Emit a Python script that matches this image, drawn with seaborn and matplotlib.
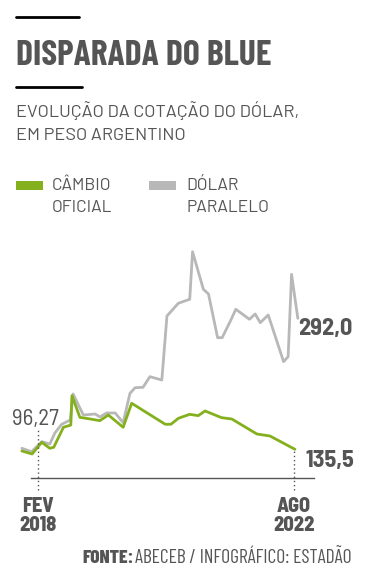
import matplotlib
matplotlib.use("Agg")
import pandas as pd
import seaborn as sns
from matplotlib import pyplot as plt
from matplotlib.lines import Line2D
from matplotlib.patches import Rectangle

# values (x in decimal years)
paralelo_x = [2017.80, 2017.97, 2018.06, 2018.15, 2018.29, 2018.38, 2018.50, 2018.65,
              2018.70, 2018.88, 2019.09, 2019.17, 2019.29, 2019.44, 2019.58, 2019.70,
              2019.79, 2019.93, 2020.05, 2020.26, 2020.35, 2020.55, 2020.75, 2020.80,
              2020.99, 2021.08, 2021.24, 2021.32, 2021.46, 2021.56, 2021.80, 2021.90,
              2021.99, 2022.13, 2022.40, 2022.48, 2022.54, 2022.65]
paralelo_y = [136.7, 132.6, 138.6, 144.6, 141.8, 155.0, 165.4, 170.5,
              201.6, 176.5, 177.7, 174.1, 178.9, 178.9, 167.3, 202.4,
              209.1, 209.6, 222.3, 218.3, 294.8, 310.0, 314.8, 371.6,
              326.7, 321.1, 268.9, 268.9, 288.0, 302.8, 290.9, 297.2,
              286.8, 296.0, 240.2, 246.2, 344.6, 292.0]

oficial_x = [2017.80, 2017.98, 2018.15, 2018.29, 2018.36, 2018.53, 2018.66, 2018.68,
             2018.82, 2019.03, 2019.17, 2019.32, 2019.58, 2019.73, 2020.32, 2020.42,
             2020.55, 2020.75, 2020.90, 2021.02, 2021.31, 2021.49, 2021.93, 2022.16,
             2022.60]
oficial_y = [133.5, 129.9, 143.9, 136.7, 137.9, 161.8, 164.5, 199.5,
             173.7, 171.4, 169.7, 176.5, 161.8, 190.5, 165.4, 165.4,
             172.5, 177.3, 175.7, 181.3, 173.3, 171.7, 153.8, 151.4,
             135.5]

tick_pos = [2018.083, 2022.583]
tick_labels = ["FEV\n2018", "AGO\n2022"]

GREEN = "#84b01e"
GREY = "#b8b8b8"
TXT = "#555555"
W, H = 370, 566
COND = ["Barlow Condensed", "DejaVu Sans"]
SEMI = ["Barlow Semi Condensed", "DejaVu Sans"]
REG = ["Barlow", "DejaVu Sans"]

sns.set_style("white")
plt.rcParams["font.family"] = REG


def fx(px):
    return px / W


def fy(py):
    return 1 - py / H


fig = plt.figure(figsize=(W / 100, H / 100), dpi=100)
ax = fig.add_axes([fx(20), fy(478), fx(320) - fx(20), fy(240) - fy(478)])

df_par = pd.DataFrame({"ano": paralelo_x, "valor": paralelo_y})
df_ofi = pd.DataFrame({"ano": oficial_x, "valor": oficial_y})
sns.lineplot(data=df_par, x="ano", y="valor", color=GREY, lw=2, ax=ax)
sns.lineplot(data=df_ofi, x="ano", y="valor", color=GREEN, lw=2, ax=ax)

ax.set_xlim(2017.767, 2023.040)
ax.set_ylim(101.2, 385.6)
ax.set_xlabel("")
ax.set_ylabel("")
ax.set_yticks([])
for s in ["left", "right", "top"]:
    ax.spines[s].set_visible(False)
ax.spines["bottom"].set_color(TXT)
ax.spines["bottom"].set_linewidth(1)
ax.spines["bottom"].set_bounds(2017.96, 2022.934)
ax.set_xticks(tick_pos)
ax.set_xticklabels(tick_labels, fontsize=14.5, fontweight="heavy", color=TXT,
                   linespacing=1.0, family=SEMI)
ax.tick_params(axis="x", length=0, pad=14)

# dotted markers
ax.plot([tick_pos[0]] * 2, [86.9, 161.0], ls=(0, (1, 2)), color=TXT, lw=1, clip_on=False)
ax.plot([tick_pos[1]] * 2, [86.9, 133.5], ls=(0, (1, 2)), color=TXT, lw=1, clip_on=False)

ax.text(2018.03, 164.5, "96,27", fontsize=16.5, color=TXT, ha="center",
        va="baseline", family=SEMI)
ax.text(2022.653, 272.1, "292,0", fontsize=17.5, fontweight="bold", color=TXT,
        ha="left", va="baseline", family=SEMI)
ax.text(2022.79, 114.4, "135,5", fontsize=17.5, fontweight="bold", color=TXT,
        ha="left", va="baseline", family=SEMI)

# header
fig.add_artist(Line2D([fx(16), fx(79)], [fy(17), fy(17)], color="black", lw=2))
fig.add_artist(Line2D([fx(16), fx(82)], [fy(87), fy(87)], color="black", lw=2))
fig.text(fx(16), fy(65), "DISPARADA DO BLUE", fontsize=25.6, fontweight="bold",
         color=TXT, va="baseline", family=COND)
fig.text(fx(16), fy(117), "EVOLUÇÃO DA COTAÇÃO DO DÓLAR,", fontsize=13,
         color=TXT, va="baseline")
fig.text(fx(16), fy(140), "EM PESO ARGENTINO", fontsize=13, color=TXT, va="baseline")

# legend
fig.add_artist(Rectangle((fx(16), fy(190)), fx(27), fy(181) - fy(190),
                         color=GREEN, lw=0))
fig.add_artist(Rectangle((fx(149), fy(190)), fx(27), fy(181) - fy(190),
                         color=GREY, lw=0))
fig.text(fx(52), fy(190), "CÂMBIO", fontsize=12.5, color=TXT, va="baseline")
fig.text(fx(52), fy(212), "OFICIAL", fontsize=12.5, color=TXT, va="baseline")
fig.text(fx(186), fy(190), "DÓLAR", fontsize=12.5, color=TXT, va="baseline")
fig.text(fx(186), fy(212), "PARALELO", fontsize=12.5, color=TXT, va="baseline")

# source
src = fig.text(fx(352), fy(563), "ABECEB / INFOGRÁFICO: ESTADÃO", fontsize=14,
               color=TXT, ha="right", va="baseline", family=COND)
fig.canvas.draw()
bb = src.get_window_extent()
fig.text(fx(bb.x0 - 2), fy(563), "FONTE:", fontsize=14, fontweight="heavy",
         color=TXT, ha="right", va="baseline", family=COND)

fig.savefig("out.png", dpi=100)
